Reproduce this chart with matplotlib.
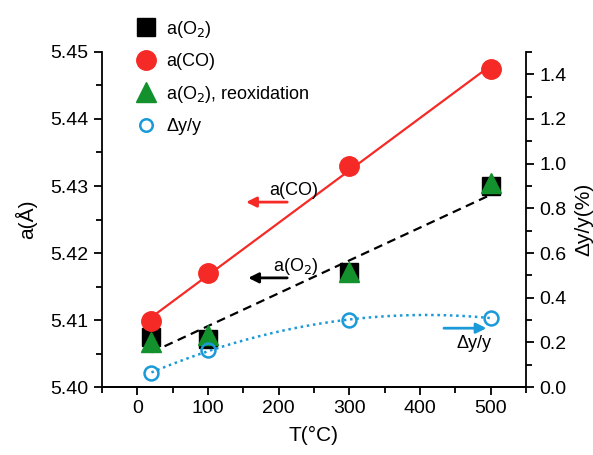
import numpy as np
import matplotlib
matplotlib.use("Agg")
import matplotlib.pyplot as plt
from matplotlib.lines import Line2D

plt.rcParams['font.family'] = ['Liberation Sans', 'DejaVu Sans']

# data
temps = [20, 100, 300, 500]
a_o2 = [5.4075, 5.4072, 5.4172, 5.4300]
a_co = [5.4099, 5.4170, 5.4330, 5.4475]
a_reox = [5.4068, 5.4078, 5.4172, 5.4305]
dy_y = [0.063, 0.166, 0.300, 0.310]

x_ticks = [0, 100, 200, 300, 400, 500]
left_ticks = [5.40, 5.41, 5.42, 5.43, 5.44, 5.45]
right_ticks = [0.0, 0.2, 0.4, 0.6, 0.8, 1.0, 1.2, 1.4]

RED = '#f52a26'
GREEN = '#13912c'
BLUE = '#1a9ad8'

fig = plt.figure(figsize=(5.93, 4.55), dpi=100)
ax = fig.add_axes([0.172, 0.149, 0.715, 0.737])
ax2 = ax.twinx()

x = np.array(temps, dtype=float)
xfit = np.linspace(20, 500, 200)

# fitted lines
p_co = np.polyfit(x, a_co, 1)
ax.plot(xfit, np.polyval(p_co, xfit), color=RED, lw=1.6, zorder=2)
p_o2 = np.polyfit(x, a_o2, 1)
ax.plot(xfit, np.polyval(p_o2, xfit), color='black', lw=1.6, ls=(0, (4, 2.5)), zorder=2)
p_dy = np.polyfit(x, dy_y, 2)
ax2.plot(xfit, np.polyval(p_dy, xfit), color=BLUE, lw=1.8, ls=(0, (1, 1.5)), zorder=2)

# markers
ax.plot(temps, a_o2, 's', color='black', ms=13, zorder=3)
ax.plot(temps, a_co, 'o', color=RED, ms=14, zorder=3)
ax.plot(temps, a_reox, '^', color=GREEN, ms=15, zorder=4)
ax2.plot(temps, dy_y, 'o', mfc='none', mec=BLUE, mew=1.8, ms=10, zorder=3)

# annotations
arrow = dict(arrowstyle='-|>', lw=2.0, mutation_scale=15)
ax.annotate('', xy=(150, 5.4276), xytext=(216, 5.4276),
            arrowprops=dict(arrow, color=RED))
ax.text(221, 5.4294, 'a(CO)', ha='center', va='center', fontsize=13)
ax.annotate('', xy=(153, 5.4163), xytext=(216, 5.4163),
            arrowprops=dict(arrow, color='black'))
ax.text(224, 5.4180, 'a(O$_2$)', ha='center', va='center', fontsize=13)
ax.annotate('', xy=(498, 5.4088), xytext=(430, 5.4088),
            arrowprops=dict(arrow, color=BLUE))
ax.text(477, 5.4065, 'Δy/y', ha='center', va='center', fontsize=13)

# axes setup
ax.set_xlim(-50, 550)
ax.set_ylim(5.40, 5.45)
ax2.set_ylim(0, 1.5)
ax.set_xticks(x_ticks)
ax.set_xticks(np.arange(-50, 551, 50), minor=True)
ax.set_yticks(left_ticks)
ax.set_yticks(np.arange(5.40, 5.4501, 0.005), minor=True)
ax.set_yticklabels([f'{v:.2f}' for v in left_ticks])
ax2.set_yticks(right_ticks)
ax2.set_yticks(np.arange(0, 1.501, 0.1), minor=True)
ax2.set_yticklabels([f'{v:.1f}' for v in right_ticks])

for a in (ax, ax2):
    a.spines['top'].set_visible(False)
    for s in a.spines.values():
        s.set_linewidth(1.3)
    a.tick_params(which='major', direction='out', length=6, width=1.3, labelsize=14)
    a.tick_params(which='minor', direction='out', length=4, width=1.3)
ax.spines['right'].set_visible(False)
ax2.spines['left'].set_visible(False)

ax.set_xlabel('T(°C)', fontsize=15, labelpad=6)
ax.set_ylabel('a(Å)', fontsize=15, labelpad=10)
ax2.set_ylabel('Δy/y(%)', fontsize=15, labelpad=6)

handles = [
    Line2D([], [], ls='none', marker='s', color='black', ms=13),
    Line2D([], [], ls='none', marker='o', color=RED, ms=14),
    Line2D([], [], ls='none', marker='^', color=GREEN, ms=15),
    Line2D([], [], ls='none', marker='o', mfc='none', mec=BLUE, mew=1.8, ms=9),
]
labels = ['a(O$_2$)', 'a(CO)', 'a(O$_2$), reoxidation', 'Δy/y']
fig.legend(handles, labels, loc='upper left', bbox_to_anchor=(0.195, 0.995),
           frameon=False, fontsize=13, handletextpad=0.3, labelspacing=0.75,
           handlelength=1.6)

fig.savefig('out.png', dpi=100)
